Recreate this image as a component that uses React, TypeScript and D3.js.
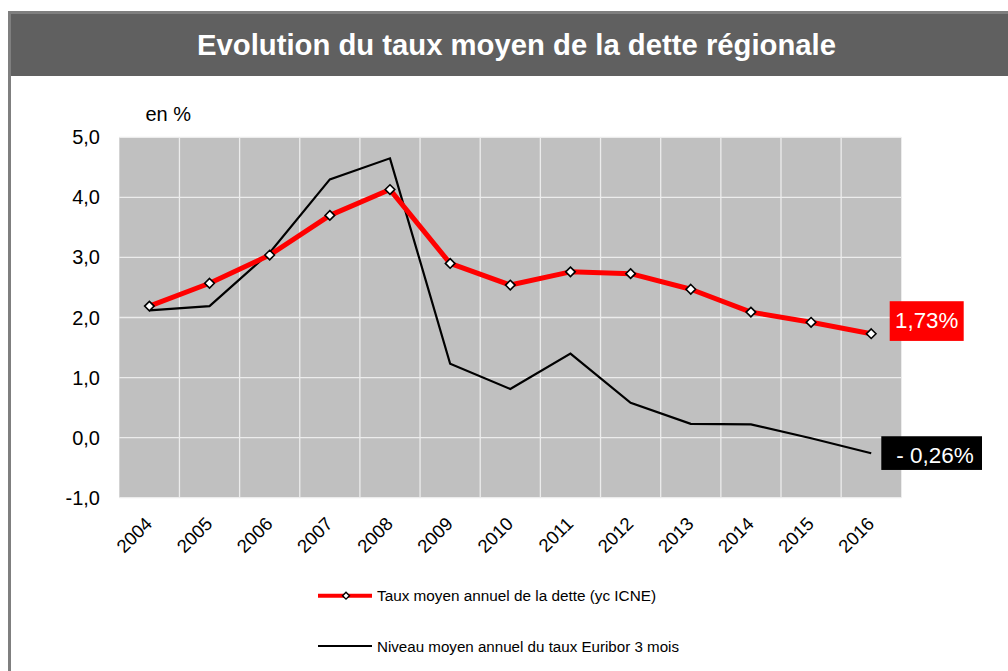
import React from "react";
import * as d3 from "d3";

const years = ["2004","2005","2006","2007","2008","2009","2010","2011","2012","2013","2014","2015","2016"];
const tauxDette = [2.19, 2.57, 3.04, 3.70, 4.13, 2.90, 2.54, 2.76, 2.73, 2.47, 2.09, 1.92, 1.73];
const euribor = [2.12, 2.19, 3.08, 4.30, 4.65, 1.23, 0.81, 1.40, 0.58, 0.23, 0.22, -0.01, -0.26];
const yTicks = [-1, 0, 1, 2, 3, 4, 5];
const title = "Evolution du taux moyen de la dette régionale";
const seriesNames = ["Taux moyen annuel de la dette (yc ICNE)", "Niveau moyen annuel du taux Euribor 3 mois"];
const endLabels = ["1,73%", "- 0,26%"];

const FONT = "'Liberation Sans', Arial, sans-serif";

export default function App() {
  const x = d3.scaleBand<string>().domain(years).range([119.3, 901.3]);
  const y = d3.scaleLinear().domain([-1, 5]).range([497.7, 137.3]);
  const cx = (i: number) => (x(years[i]) as number) + x.bandwidth() / 2;
  const line = d3.line<number>().x((_, i) => cx(i)).y((d) => y(d));
  const fmt = (v: number) => v.toFixed(1).replace(".", ",");
  const diamond = d3.symbol().type(d3.symbolDiamond2).size(58)();

  const lastI = years.length - 1;

  return (
    <svg width={1008} height={671} style={{ position: "absolute", left: 0, top: 0, background: "#fff" }} fontFamily={FONT}>
      {/* frame */}
      <rect x={8} y={11} width={1000} height={3} fill="#7f7f7f" />
      <rect x={8} y={11} width={3} height={660} fill="#7f7f7f" />
      <rect x={11} y={14} width={997} height={62} fill="#606060" />
      <text x={516.5} y={55} textAnchor="middle" fill="#fff" fontWeight="bold" fontSize={29.5} textLength={639} lengthAdjust="spacingAndGlyphs">{title}</text>

      {/* plot area */}
      <rect x={119.3} y={137.3} width={782} height={360.4} fill="#c0c0c0" />
      {yTicks.map((t) => (
        <line key={"h" + t} x1={119.3} x2={901.3} y1={y(t)} y2={y(t)} stroke="#ececec" strokeWidth={1.3} />
      ))}
      {years.slice(1).map((yr) => (
        <line key={"v" + yr} x1={x(yr) as number} x2={x(yr) as number} y1={137.3} y2={497.7} stroke="#ececec" strokeWidth={1.3} />
      ))}

      {/* y axis labels */}
      {yTicks.map((t) => (
        <text key={"yl" + t} x={100} y={y(t)} dy="0.35em" textAnchor="end" fontSize={20} fill="#000">{fmt(t)}</text>
      ))}
      <text x={145.5} y={121} fontSize={20} fill="#000">en %</text>

      {/* x axis labels */}
      {years.map((yr, i) => (
        <text key={"xl" + yr} transform={`translate(${cx(i) + 4},${525}) rotate(-45)`} textAnchor="end" fontSize={18.5} fill="#000">{yr}</text>
      ))}

      {/* lines */}
      <path d={line(euribor) as string} fill="none" stroke="#000" strokeWidth={2.2} strokeLinejoin="miter" />
      <path d={line(tauxDette) as string} fill="none" stroke="#ff0000" strokeWidth={5} strokeLinejoin="round" />
      {tauxDette.map((v, i) => (
        <path key={"m" + i} d={diamond as string} transform={`translate(${cx(i)},${y(v)})`} fill="#fff" stroke="#000" strokeWidth={1.6} />
      ))}

      {/* end labels */}
      <rect x={889.7} y={y(tauxDette[lastI]) - 32.5} width={74} height={39.7} fill="#ff0000" />
      <text x={926.7} y={328.3} textAnchor="middle" fontSize={22.3} fill="#fff">{endLabels[0]}</text>
      <rect x={881.3} y={y(euribor[lastI]) - 17} width={100.7} height={33.7} fill="#000" />
      <text x={935} y={463.3} textAnchor="middle" fontSize={22.5} fill="#fff">{endLabels[1]}</text>

      {/* legend */}
      <line x1={318} x2={372} y1={595.7} y2={595.7} stroke="#ff0000" strokeWidth={4} />
      <path d={d3.symbol().type(d3.symbolDiamond2).size(30)() as string} transform="translate(346,595.7)" fill="#fff" stroke="#000" strokeWidth={1.4} />
      <text x={377} y={601} fontSize={15.5} fill="#000" textLength={279} lengthAdjust="spacingAndGlyphs">{seriesNames[0]}</text>
      <line x1={318} x2={372} y1={646} y2={646} stroke="#000" strokeWidth={2.2} />
      <text x={377} y={651.5} fontSize={15.5} fill="#000" textLength={302} lengthAdjust="spacingAndGlyphs">{seriesNames[1]}</text>
    </svg>
  );
}
